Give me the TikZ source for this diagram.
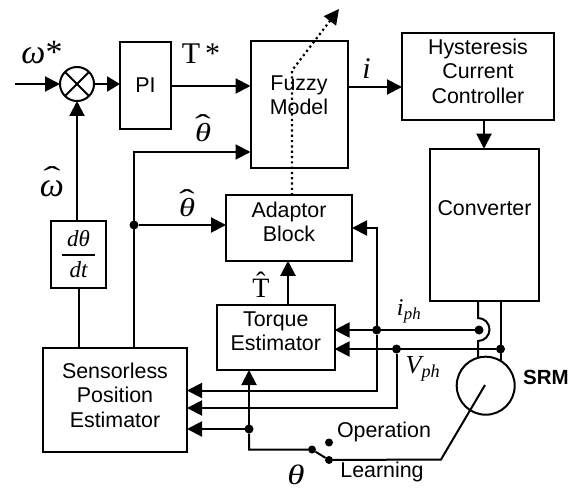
\documentclass[tikz,border=0pt]{standalone}
\usepackage{graphicx}
\usepackage{fontspec}
\setmainfont{Liberation Sans}
\newfontfamily\serifsig{Liberation Serif}
\usetikzlibrary{arrows.meta}
\newcommand{\sighat}[3]{\ooalign{#1\cr\hidewidth\raisebox{#2}{\scalebox{#3}[1.1]{\upshape\fontsize{26}{28}\selectfont ˆ}}\hidewidth\cr}}
\newcommand{\widegreek}[1]{\scalebox{1.25}[1]{#1}}
\tikzset{
    >={Triangle[length=15pt,width=15pt]},
    block/.style={draw, rectangle, line width=2pt, inner sep=0pt, outer sep=0pt, font=\fontsize{21.4}{24.5}\selectfont},
    blocktext/.style={align=center, inner sep=0pt, font=\fontsize{21.4}{24.5}\selectfont},
    vertex/.style={circle, fill=black, inner sep=0pt, outer sep=0pt, minimum size=9pt},
    sigline/.style={line width=2pt},
    siglabel/.style={inner sep=0pt, font=\fontsize{26}{28}\selectfont\serifsig\itshape},
    tunedots/.style={line width=2.2pt, dash pattern=on 2.2pt off 3.1pt}
}

\begin{document}
\begin{tikzpicture}[x=1pt,y=-1pt]
    \useasboundingbox (0,0) rectangle (577,489);

    % blocks
    \node[draw, circle, line width=2pt, inner sep=0pt, outer sep=0pt, minimum size=34pt] (sum) at (77,84) {};
    \node[block, minimum width=51pt, minimum height=87pt] (pi) at (145.5,85.5) {PI};
    \node[block, minimum width=97pt, minimum height=127pt] (fuzzy) at (299,104.5) {};
    \node[blocktext] (fuzzytext) at (299,95) {Fuzzy\\Model};
    \node[block, minimum width=152pt, minimum height=87pt] (hyst) at (478,76.5) {};
    \node[blocktext] (hysttext) at (478,71) {Hysteresis\\Current\\Controller};
    \node[block, minimum width=109pt, minimum height=152.5pt] (conv) at (484.5,225) {};
    \node[blocktext] (convtext) at (484.5,208) {Converter};
    \node[block, minimum width=126pt, minimum height=65.5pt] (adaptor) at (289,228) {};
    \node[blocktext] (adaptortext) at (289,222) {Adaptor\\Block};
    \node[block, minimum width=117.5pt, minimum height=65pt] (torque) at (275.8,337.5) {};
    \node[blocktext] (torquetext) at (275.8,331) {Torque\\Estimator};
    \node[block, minimum width=144pt, minimum height=104pt] (spe) at (115,400) {};
    \node[blocktext] (spetext) at (115,395) {Sensorless\\Position\\Estimator};
    \node[block, minimum width=55pt, minimum height=67pt, align=center, font=\fontsize{23}{25}\selectfont\serifsig\itshape] (ddt) at (78.5,254.5) {dθ\\[6pt]dt};
    \node[draw, circle, line width=2pt, inner sep=0pt, outer sep=0pt, minimum size=58pt] (srm) at (485.7,385.7) {};

    % junction dots
    \node[vertex] (thetadot) at (134,225) {};
    \node[vertex] (iphdot) at (479,330) {};
    \node[vertex] (iphtap) at (376.7,330) {};
    \node[vertex] (vphdot) at (500.5,349) {};
    \node[vertex] (vphtap) at (396.5,349) {};
    \node[vertex] (posdot) at (249,429) {};
    \node[vertex, minimum size=8pt] (swcom) at (312,449.5) {};
    \node[vertex, minimum size=8pt] (swop) at (329,442.5) {};
    \node[vertex, minimum size=8pt] (swlearn) at (329,460) {};

    % free ends and bends
    \coordinate (wref) at (15,84);
    \coordinate (hoptop) at (478,318);
    \coordinate (hopbot) at (478,341);
    \coordinate (srmleft) at (478,358);
    \coordinate (srmright) at (500.5,361);
    \coordinate (shaft) at (485,385);
    \coordinate (shaftbend) at (441,459.5);
    \coordinate (tunebend) at (292,70.5);
    \coordinate (tunetip) at (339,9);
    \coordinate (barleft) at (62,255);
    \coordinate (barright) at (95,255);

    % sum and cross
    \draw[sigline] (sum.north west) -- (sum.south east);
    \draw[sigline] (sum.north east) -- (sum.south west);
    \draw[line width=1.5pt] (barleft) -- (barright);

    % forward path
    \draw[sigline,->] (wref) -- (sum.west);
    \draw[sigline,-{Triangle[length=13pt,width=15pt]}] (sum.east) -- (pi.west |- sum.east);
    \draw[sigline,->] (pi.east |- 0,86) -- (fuzzy.west |- 0,86);
    \draw[sigline,->] (fuzzy.east |- 0,87) -- (hyst.west |- 0,87);
    \draw[sigline,->] (hyst.south -| 484,0) -- (conv.north -| 484,0);

    % feedback
    \draw[sigline] (spe.north -| ddt.south) -- (ddt.south);
    \draw[sigline,->] (ddt.north -| sum.south) -- (sum.south);
    \draw[sigline,->] (spe.north -| thetadot) -- (thetadot |- 0,152) -- (fuzzy.west |- 0,152);
    \draw[sigline,->] (thetadot) -- (adaptor.west |- thetadot);
    \draw[sigline,->] (torque.north -| 288,0) -- (adaptor.south -| 288,0);

    % phase current and voltage
    \draw[sigline,->] (iphdot) -- (torque.east |- iphdot);
    \draw[sigline,->] (vphdot) -- (torque.east |- vphdot);
    \draw[sigline,->] (iphtap) -- (iphtap |- 0,228) -- (adaptor.east |- 0,228);
    \draw[sigline,->] (iphtap) -- (iphtap |- 0,390.5) -- (spe.east |- 0,390.5);
    \draw[sigline,->] (vphtap) -- (vphtap |- 0,408) -- (spe.east |- 0,408);
    \draw[sigline] (conv.south -| hoptop) -- (hoptop) arc[start angle=-90,end angle=90,radius=11.5] -- (srmleft);
    \draw[sigline] (conv.south -| vphdot) -- (srmright);

    % position signal and switch
    \draw[sigline,->] (posdot) -- (spe.east |- posdot);
    \draw[sigline,->] (posdot) -- (torque.south -| posdot);
    \draw[sigline] (posdot) -- (posdot |- swcom) -- (swcom) -- (swlearn) -- (shaftbend) -- (shaft);

    % tuning arrow
    \draw[tunedots,->] (adaptor.north -| tunebend) -- (tunebend) -- (tunetip);

    % labels
    \node[siglabel, font=\fontsize{34}{36}\selectfont\serifsig\itshape] (wreflabel) at (42,53) {ω\upshape *};
    \node[siglabel, font=\fontsize{30}{32}\selectfont\serifsig] (tstarlabel) at (201,54) {T\,*};
    \node[siglabel, font=\fontsize{30}{32}\selectfont\serifsig\itshape] (ilabel) at (366.5,69) {i};
    \node[siglabel, font=\fontsize{34}{36}\selectfont\serifsig\itshape] (wlabel) at (52,189) {\sighat{ω}{10pt}{2}};
    \node[siglabel] (thetaup) at (203,132) {\sighat{\widegreek{θ}}{7pt}{1.8}};
    \node[siglabel] (thetalow) at (187,207) {\sighat{\widegreek{θ}}{7pt}{1.8}};
    \node[siglabel, font=\fontsize{28}{30}\selectfont\serifsig] (tlabel) at (261,285) {\^{T}};
    \node[siglabel, font=\fontsize{24}{26}\selectfont\serifsig\itshape] (iphlabel) at (409,311) {i\textsubscript{\kern0.5pt ph}};
    \node[siglabel, font=\fontsize{26}{28}\selectfont\serifsig\itshape] (vphlabel) at (423,369) {V\textsubscript{ph}};
    \node[siglabel, font=\fontsize{28}{30}\selectfont\serifsig\itshape] (thetaswitch) at (296,475) {\widegreek{θ}};
    \node[blocktext, font=\fontsize{20.5}{24}\selectfont\bfseries] (srmlabel) at (546,377) {SRM};
    \node[blocktext] (oplabel) at (384,432) {Operation};
    \node[blocktext] (learnlabel) at (382,472) {Learning};
\end{tikzpicture}
\end{document}
